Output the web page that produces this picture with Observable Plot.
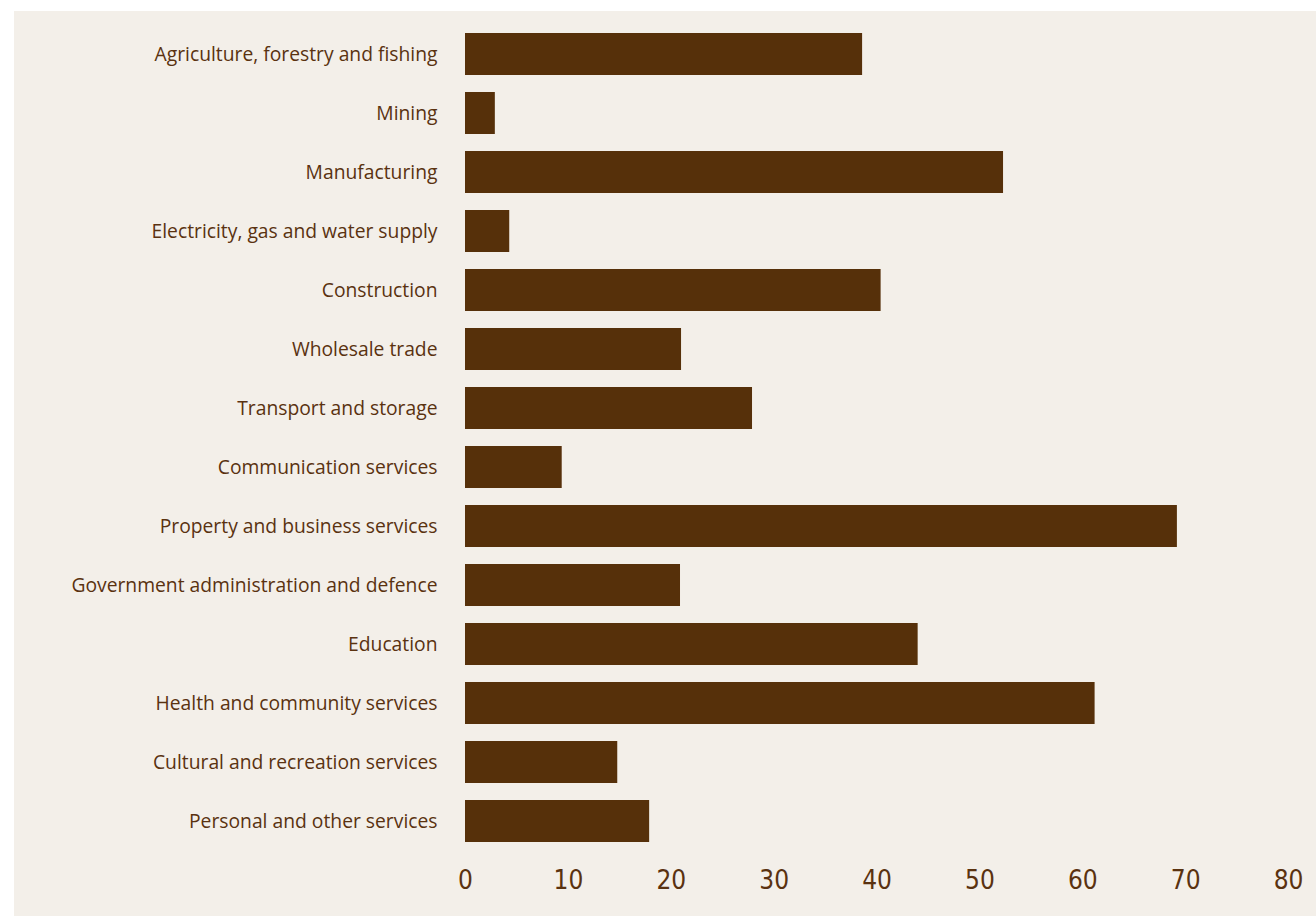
<!DOCTYPE html>
<html>
<head>
<meta charset="utf-8">
<script src="https://cdn.jsdelivr.net/npm/d3@7"></script>
<script src="https://cdn.jsdelivr.net/npm/@observablehq/plot@0.6"></script>
<style>
  html, body { margin: 0; padding: 0; background: #ffffff; }
  #chart { position: absolute; left: 14px; top: 11px; width: 1302px; height: 905px; background: #f3efe9; }
  #chart svg { display: block; }
  .yax text { font-family: "Open Sans", "Noto Sans", sans-serif; font-size: 19.3px; fill: #5a3210; }
  .xax text { font-family: "Liberation Sans Narrow", "DejaVu Sans", sans-serif; font-stretch: condensed; font-size: 26px; fill: #5a3210; }
</style>
</head>
<body>
<div id="chart"></div>
<script>
const industries = [
  "Agriculture, forestry and fishing",
  "Mining",
  "Manufacturing",
  "Electricity, gas and water supply",
  "Construction",
  "Wholesale trade",
  "Transport and storage",
  "Communication services",
  "Property and business services",
  "Government administration and defence",
  "Education",
  "Health and community services",
  "Cultural and recreation services",
  "Personal and other services"
];
const values = [38.6, 2.9, 52.3, 4.3, 40.4, 21.0, 27.9, 9.4, 69.2, 20.9, 44.0, 61.2, 14.8, 17.9];
const xTicks = [0, 10, 20, 30, 40, 50, 60, 70, 80];

const data = industries.map((name, i) => ({name, value: values[i]}));

const chart = Plot.plot({
  width: 1302,
  height: 905,
  marginLeft: 451,
  marginRight: 28,
  marginTop: 2,
  marginBottom: 54,
  style: {background: "transparent", color: "#5a3210"},
  x: {domain: [0, 80], ticks: xTicks, label: null},
  y: {domain: industries, padding: 0.29, label: null},
  marks: [
    Plot.barX(data, {x: "value", y: "name", fill: "#56300a"}),
    Plot.axisX({ticks: xTicks, tickSize: 0, tickPadding: 8, label: null, className: "xax"}),
    Plot.axisY({tickSize: 0, tickPadding: 28, label: null, className: "yax"})
  ]
});
document.getElementById("chart").appendChild(chart);
</script>
</body>
</html>
